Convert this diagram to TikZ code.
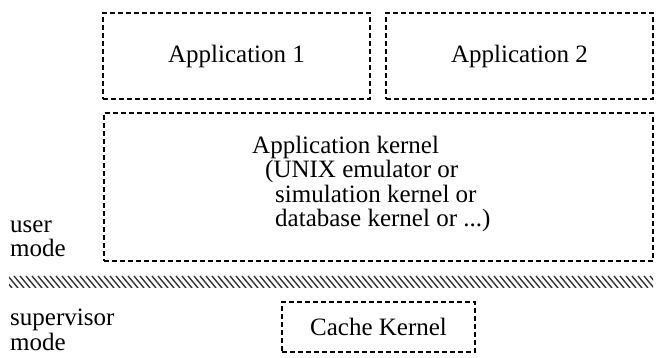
\documentclass[tikz,border=0pt]{standalone}
\usepackage{fontspec}
\setmainfont{Liberation Serif}
\begin{document}
\begin{tikzpicture}[x=1pt,y=-1pt,
    layerbox/.style={draw,line width=2pt,dash pattern=on 5pt off 3pt,inner sep=0pt},
    layertext/.style={font=\fontsize{25}{24.4}\selectfont,inner sep=0pt,align=left}]
    \useasboundingbox (0,0) rectangle (657,358);

    % Define boxes
    \node[layerbox,minimum width=267,minimum height=86,layertext] (app1) at (236.5,56.5) {Application 1};
    \node[layerbox,minimum width=267,minimum height=86,layertext] (app2) at (519.5,56.5) {Application 2};
    \node[layerbox,minimum width=549,minimum height=148] (appkernel) at (378.5,187) {};
    \node[layerbox,minimum width=193,minimum height=50,layertext] (cachekernel) at (378.5,327) {Cache Kernel};

    % Texts
    \node[layertext,anchor=west] (kerneltext) at (252,184)
        {Application kernel\\
         \hspace*{13pt}(UNIX emulator or\\
         \hspace*{23pt}simulation kernel or\\
         \hspace*{23pt}database kernel or ...)};
    \node[layertext,anchor=west] (usermode) at (10,239) {user\\mode};
    \node[layertext,anchor=west] (supermode) at (10,330) {supervisor\\mode};

    % Hatched boundary
    \begin{scope}
        \clip (9,276) rectangle (653,288);
        \foreach \x in {-10,-4,...,660}
            \draw[line width=1.4pt,black!80] (\x,276) -- (\x+10,288);
    \end{scope}
\end{tikzpicture}
\end{document}
